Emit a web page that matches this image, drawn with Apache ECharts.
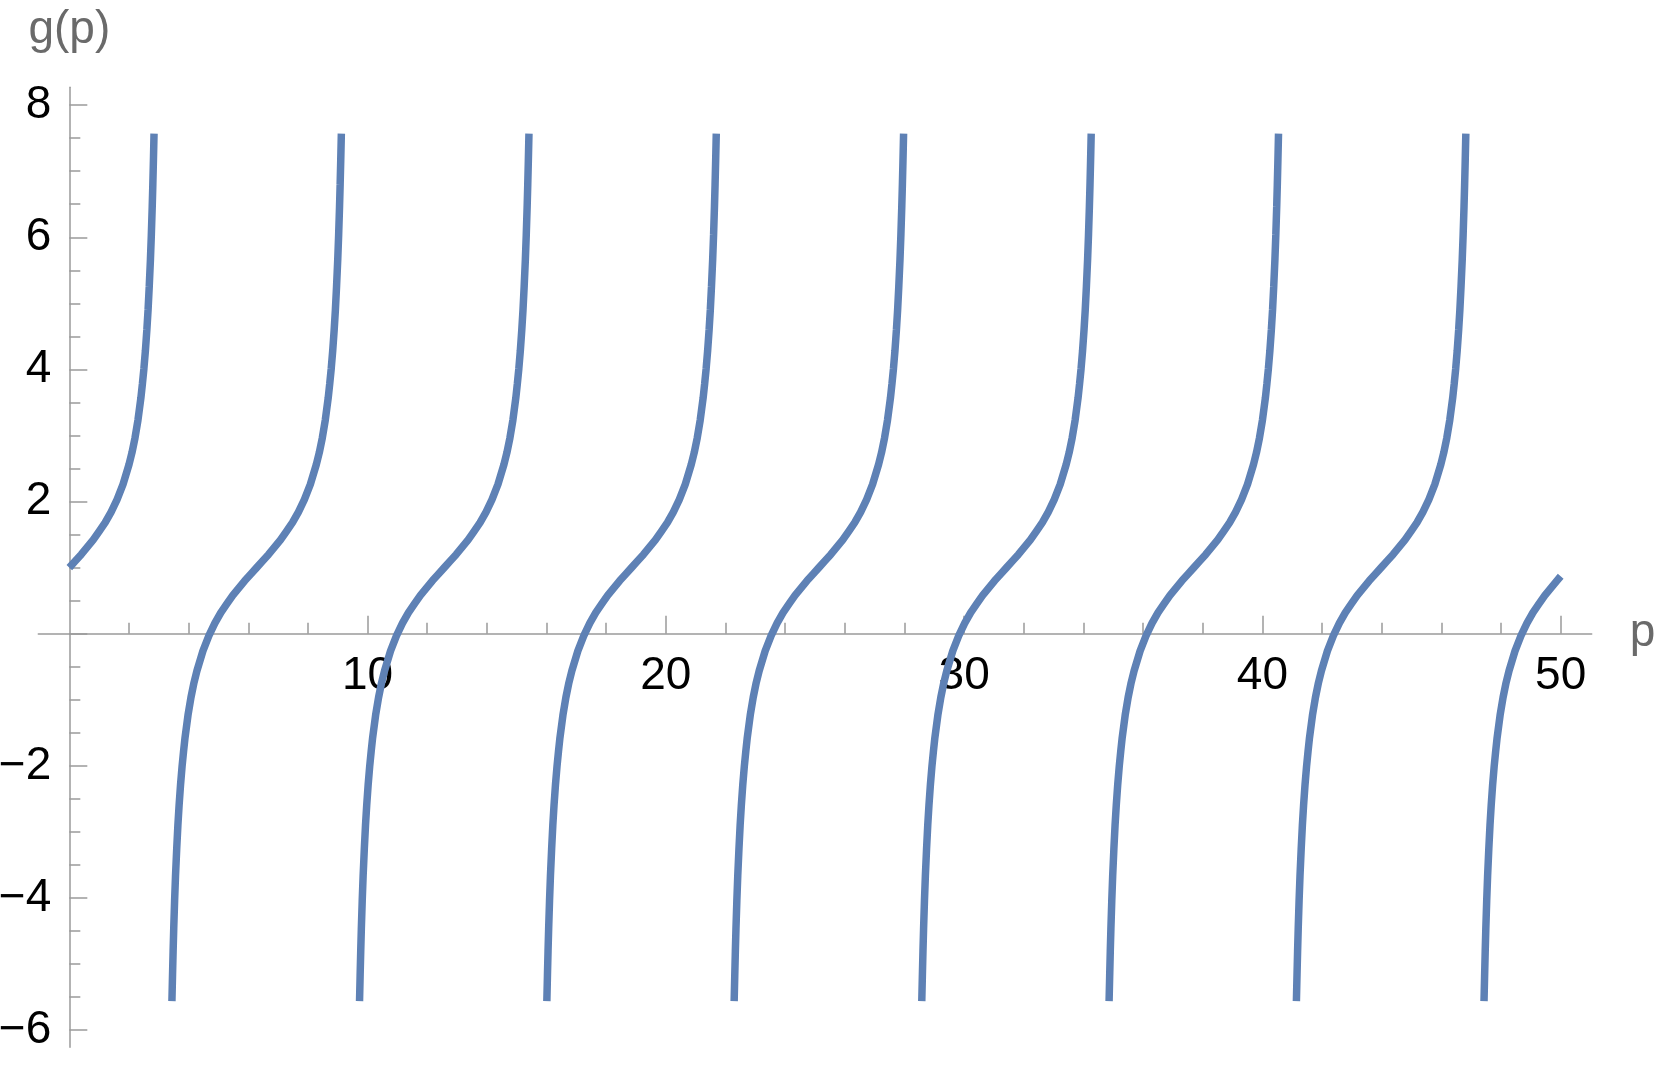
<!DOCTYPE html>
<html>
<head>
<meta charset="utf-8">
<title>g(p)</title>
<script src="https://cdn.jsdelivr.net/npm/echarts@6/dist/echarts.min.js"></script>
<style>
  html, body { margin: 0; padding: 0; background: #ffffff; }
  #chart { width: 1661px; height: 1066px; }
</style>
</head>
<body>
<div id="chart"></div>
<script>
// one branch of the curve: offset from branch centre -> g
var dp = [-2.84, -2.82, -2.80, -2.78, -2.75, -2.72, -2.68, -2.64, -2.60, -2.55, -2.50, -2.45, -2.40,
  -2.30, -2.20, -2.10, -2.00, -1.80, -1.60, -1.40, -1.20, -1.00, -0.80, -0.60, -0.40, -0.20, 0,
  0.20, 0.40, 0.60, 0.80, 1.00, 1.20, 1.40, 1.60, 1.80, 2.00, 2.10, 2.20, 2.30,
  2.40, 2.45, 2.50, 2.55, 2.60, 2.64, 2.68, 2.72, 2.75, 2.78, 2.80, 2.82, 2.84];
var gShape = [-5.56, -5.17, -4.80, -4.47, -4.04, -3.67, -3.26, -2.90, -2.60, -2.28, -2.01, -1.78, -1.57,
  -1.23, -0.96, -0.74, -0.56, -0.26, -0.03, 0.16, 0.32, 0.45, 0.58, 0.69, 0.80, 0.90, 1.00,
  1.10, 1.20, 1.31, 1.42, 1.55, 1.68, 1.84, 2.03, 2.26, 2.56, 2.74, 2.96, 3.23,
  3.57, 3.78, 4.01, 4.28, 4.60, 4.90, 5.26, 5.67, 6.04, 6.47, 6.80, 7.17, 7.57];
// where each branch is centred (g = 1 crossing)
var branchCenters = [0, 6.28, 12.57, 18.85, 25.13, 31.42, 37.70, 43.98, 50.27];
var pMin = 0;
var pMax = 50;
var endPoint = [50, 0.87];

var xMajorTicks = [10, 20, 30, 40, 50];
var xMinorTicks = [2, 4, 6, 8, 12, 14, 16, 18, 22, 24, 26, 28, 32, 34, 36, 38, 42, 44, 46, 48];
var yMajorTicks = [-6, -4, -2, 0, 2, 4, 6, 8];
var yMinorTicks = [-5.5, -5, -4.5, -3.5, -3, -2.5, -1.5, -1, -0.5, 0.5, 1, 1.5,
  2.5, 3, 3.5, 4.5, 5, 5.5, 6.5, 7, 7.5];
var yLabels = [-6, -4, -2, 2, 4, 6, 8];

var axisGray = "#9a9a9a";
var fontFam = "'Liberation Sans', Arial, sans-serif";

// plot box (axis ends) and where the zero lines sit
var gridBox = { left: 38.3, right: 69.3, top: 87.3, bottom: 18.7 };
var xRange = [-1.04, 51.04];
var yRange = [-6.26, 8.27];
var plotW = 1661 - gridBox.left - gridBox.right;
var plotH = 1066 - gridBox.top - gridBox.bottom;
// axes are moved onto the zero lines with a negative offset
var xAxisOffset = -plotH * (0 - yRange[0]) / (yRange[1] - yRange[0]);
var yAxisOffset = -plotW * (0 - xRange[0]) / (xRange[1] - xRange[0]);

var series = branchCenters.map(function (c, i) {
  var pts = dp.map(function (d, k) {
    return [+(c + d).toFixed(3), gShape[k]];
  }).filter(function (pt) {
    return pt[0] >= pMin && pt[0] <= pMax;
  });
  if (i === branchCenters.length - 1) pts.push(endPoint);
  return {
    type: "line",
    xAxisIndex: 0,
    yAxisIndex: 0,
    data: pts,
    showSymbol: false,
    silent: true,
    lineStyle: { color: "#5E81B5", width: 7.5, cap: "butt" }
  };
});

var myChart = echarts.init(document.getElementById("chart"));
var option = {
  animation: false,
  backgroundColor: "#ffffff",
  grid: {
    left: gridBox.left, right: gridBox.right, top: gridBox.top, bottom: gridBox.bottom,
    containLabel: false,
    outerBoundsMode: "none"
  },
  xAxis: [
    {
      type: "value",
      position: "bottom",
      offset: xAxisOffset,
      min: xRange[0],
      max: xRange[1],
      name: "p",
      nameLocation: "end",
      nameGap: 38,
      nameTextStyle: { color: "#6a6a6a", fontSize: 46, fontFamily: fontFam },
      axisLine: { onZero: false, lineStyle: { color: axisGray, width: 1.5 } },
      axisTick: { inside: true, length: 18, customValues: xMajorTicks, lineStyle: { color: axisGray, width: 1.5 } },
      axisLabel: { customValues: xMajorTicks, margin: 20, color: "#000", fontSize: 46, fontFamily: fontFam },
      splitLine: { show: false }
    },
    {
      type: "value",
      position: "bottom",
      offset: xAxisOffset,
      min: xRange[0],
      max: xRange[1],
      axisLine: { show: false, onZero: false },
      axisTick: { inside: true, length: 11, customValues: xMinorTicks, lineStyle: { color: axisGray, width: 1.5 } },
      axisLabel: { show: false },
      splitLine: { show: false }
    }
  ],
  yAxis: [
    {
      type: "value",
      position: "left",
      offset: yAxisOffset,
      min: yRange[0],
      max: yRange[1],
      name: "g(p)",
      nameLocation: "end",
      nameGap: 34,
      nameTextStyle: { color: "#6a6a6a", fontSize: 46, fontFamily: fontFam, align: "center" },
      axisLine: { onZero: false, lineStyle: { color: axisGray, width: 1.5 } },
      axisTick: { inside: true, length: 18, customValues: yMajorTicks, lineStyle: { color: axisGray, width: 1.5 } },
      axisLabel: {
        customValues: yLabels,
        margin: 18,
        color: "#000",
        fontSize: 46,
        fontFamily: fontFam,
        formatter: function (v) { return String(v).replace("-", "\u2212"); }
      },
      splitLine: { show: false }
    },
    {
      type: "value",
      position: "left",
      offset: yAxisOffset,
      min: yRange[0],
      max: yRange[1],
      axisLine: { show: false, onZero: false },
      axisTick: { inside: true, length: 11, customValues: yMinorTicks, lineStyle: { color: axisGray, width: 1.5 } },
      axisLabel: { show: false },
      splitLine: { show: false }
    }
  ],
  series: series
};
myChart.setOption(option);
</script>
</body>
</html>
